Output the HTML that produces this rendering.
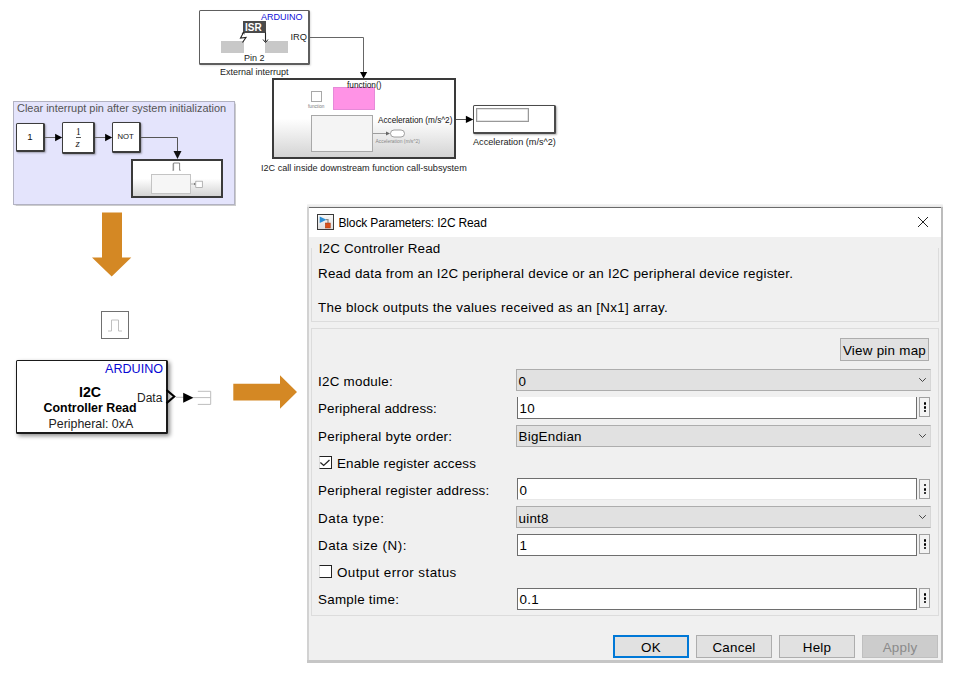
<!DOCTYPE html>
<html><head><meta charset="utf-8">
<style>
*{margin:0;padding:0;box-sizing:border-box}
html,body{width:961px;height:674px;overflow:hidden;background:#fff}
body{position:relative;font-family:"Liberation Sans",sans-serif;color:#000}
.a{position:absolute}
.t{position:absolute;white-space:pre;line-height:1}
.blk{position:absolute;background:#fff;border:1px solid #3c3c3c;border-width:1px 2px 2px 1px;border-radius:1.5px;box-shadow:1px 1px 2px rgba(0,0,0,.3)}
.sub{position:absolute;border:2px solid #3a3a3a;background:linear-gradient(#fff 0%,#fff 50%,#d4d4d4 100%)}
.dlg{position:absolute;left:307px;top:207px;width:635px;height:455px;background:#f0f0f0;border:1px solid #a0a0a0;border-top-color:#707070}
.d13{position:absolute;white-space:pre;line-height:13px;font-size:13.4px;letter-spacing:.25px;color:#000}
.dd{position:absolute;left:516px;width:415px;height:22px;background:#e1e1e1;border:1px solid #adadad;border-right-color:#d6d6d6}
.ed{position:absolute;left:517px;width:400px;height:22px;background:#fff;border:1px solid #6e6e6e}
.dots{position:absolute;left:919px;width:11px;height:20px;border:1px solid #a0a0a0;background:#f3f3f3}
.dots i{position:absolute;left:3.6px;width:2.6px;height:2.6px;border-radius:50%;background:#000}
.chev{position:absolute;left:918px;width:9px;height:6px}
.btn{position:absolute;top:635px;width:76px;height:23px;background:#e1e1e1;border:1px solid #adadad;font-size:13.4px;letter-spacing:.25px;text-align:center;line-height:23px}
</style></head><body>

<!-- ============ External interrupt block ============ -->
<div class="blk" style="left:199px;top:10px;width:111px;height:55px;border-color:#5e5e5e;box-shadow:1px 1px 2px rgba(0,0,0,.12)"></div>
<div class="t" style="left:261px;top:13px;font-size:9px;color:#1010d8">ARDUINO</div>
<div class="a" style="left:243px;top:21px;width:23px;height:12px;background:#4a4a4a"></div>
<div class="t" style="left:245px;top:22.5px;font-size:10px;font-weight:bold;color:#fff">ISR</div>
<div class="a" style="left:221px;top:41px;width:23px;height:12px;background:#c8c8c8"></div>
<div class="a" style="left:265px;top:41px;width:23px;height:12px;background:#c8c8c8"></div>
<svg class="a" style="left:236px;top:30px" width="36" height="16" viewBox="0 0 36 16">
  <path d="M7.5 2.5 L4.5 8 L10 7.5 L6.5 12.5" fill="none" stroke="#222" stroke-width="1.1"/>
  <path d="M6 4 L7.5 2 L8.3 4.3" fill="none" stroke="#222" stroke-width="0.9"/>
  <path d="M29.5 2.5 V11.5" stroke="#222" stroke-width="1.1"/>
  <path d="M27 9.5 L29.5 12.5 L32 9.5" fill="none" stroke="#222" stroke-width="1"/>
</svg>
<div class="t" style="left:244px;top:54px;font-size:9px;color:#222">Pin 2</div>
<div class="t" style="left:290.5px;top:33px;font-size:9.3px;color:#222">IRQ</div>
<div class="t" style="left:220px;top:68.3px;font-size:9px;color:#222">External interrupt</div>

<!-- IRQ line -->
<svg class="a" style="left:0;top:0" width="961" height="210" viewBox="0 0 961 210">
  <path d="M310 37.5 H363.5 V72" fill="none" stroke="#666" stroke-width="1"/>
  <path d="M360 72 L367.2 72 L363.6 78.5 Z" fill="#000"/>
  <!-- output of subsystem to display -->
  <path d="M456 119.5 H467" fill="none" stroke="#555" stroke-width="1"/>
  <path d="M465.9 115.7 L473.3 119.4 L465.9 123.1 Z" fill="#000"/>
</svg>

<!-- ============ I2C call subsystem ============ -->
<div class="sub" style="left:272px;top:78px;width:184px;height:81px"></div>
<div class="a" style="left:311px;top:91px;width:11px;height:11px;border:1px solid #a8a8a8;background:#fff"></div>
<div class="t" style="left:308px;top:105px;font-size:4.7px;color:#777">function</div>
<div class="a" style="left:333px;top:87px;width:42px;height:23px;background:#ff93e6;border:1px solid #e58ad8"></div>
<div class="t" style="left:347px;top:82.3px;font-size:8.25px;color:#111">function()</div>
<div class="a" style="left:311px;top:115px;width:62px;height:37px;border:1px solid #a8a8a8;background:#f4f4f4"></div>
<div class="t" style="left:378px;top:116.5px;font-size:8.2px;color:#111">Acceleration (m/s^2)</div>
<svg class="a" style="left:372px;top:126px" width="40" height="20" viewBox="0 0 40 20">
  <path d="M1 7.5 H15" stroke="#888" stroke-width="0.8"/>
  <path d="M14 5.5 L18 7.5 L14 9.5Z" fill="#666"/>
  <rect x="18.5" y="4" width="14" height="7" rx="3.5" fill="#fff" stroke="#888" stroke-width="0.8"/>
</svg>
<div class="t" style="left:375.5px;top:139.5px;font-size:4.9px;color:#888">Acceleration (m/s^2)</div>
<div class="t" style="left:261px;top:163.5px;font-size:9.1px;color:#222">I2C call inside downstream function call-subsystem</div>

<!-- ============ Display block ============ -->
<div class="blk" style="left:473px;top:105px;width:83px;height:29px;border-color:#4a4a4a"></div>
<div class="a" style="left:476px;top:108px;width:53px;height:14px;border:1px solid #999;box-shadow:inset 0 0 0 0.5px #ccc;background:#fff"></div>
<div class="t" style="left:473px;top:138.2px;font-size:9.15px;color:#222">Acceleration (m/s^2)</div>

<!-- ============ Area ============ -->
<div class="a" style="left:13px;top:101px;width:222px;height:103.5px;background:#e4e4fc;border:1px solid #b2b2c2;box-shadow:0.5px 0.5px 1px rgba(0,0,0,.2)"></div>
<div class="t" style="left:17px;top:102.5px;font-size:10.95px;color:#555">Clear interrupt pin after system initialization</div>
<div class="blk" style="left:16px;top:123px;width:29px;height:29px"></div>
<div class="t" style="left:27.3px;top:132px;font-size:9.7px;color:#111">1</div>
<div class="blk" style="left:62px;top:122px;width:33px;height:32px"></div>
<div class="t" style="left:76px;top:128px;font-family:'Liberation Serif',serif;font-size:9.4px;color:#111">1</div>
<div class="a" style="left:76px;top:137px;width:4.6px;height:1px;background:#555"></div>
<div class="t" style="left:75.5px;top:137.8px;font-family:'Liberation Serif',serif;font-style:italic;font-size:11px;color:#222">z</div>
<div class="blk" style="left:112px;top:122px;width:29px;height:31px"></div>
<div class="t" style="left:117.5px;top:133px;font-size:7.7px;color:#111">NOT</div>
<svg class="a" style="left:0;top:0" width="240" height="210" viewBox="0 0 240 210">
  <path d="M45 137.5 H56" stroke="#666" stroke-width="1"/>
  <path d="M55.1 133.8 L62.2 137.5 L55.1 141.2Z" fill="#000"/>
  <path d="M95 137.5 H106" stroke="#666" stroke-width="1"/>
  <path d="M105.1 133.8 L112.2 137.5 L105.1 141.2Z" fill="#000"/>
  <path d="M141 137.5 H177.5 V152" fill="none" stroke="#555" stroke-width="1"/>
  <path d="M173.5 151 L181.5 151 L177.5 159Z" fill="#111"/>
</svg>
<div class="sub" style="left:131px;top:159px;width:92px;height:39px"></div>
<svg class="a" style="left:171px;top:161px" width="12" height="11" viewBox="0 0 12 11">
  <path d="M1.6 9.3 H2.6 V2 H8.6 V9.3 H9.6" fill="none" stroke="#666" stroke-width="0.8"/>
  <path d="M1.8 2.5 V9.3" stroke="#aaa" stroke-width="0.7"/>
</svg>
<div class="a" style="left:151px;top:174px;width:40px;height:20px;border:1px solid #c4c4c4;background:#f6f6f6"></div>
<svg class="a" style="left:190px;top:179px" width="14" height="10" viewBox="0 0 14 10">
  <path d="M1 5 H5" stroke="#999" stroke-width="0.7"/>
  <path d="M4 3.8 L6 5 L4 6.2Z" fill="#777"/>
  <rect x="5.8" y="2.2" width="6.5" height="6.3" fill="#fff" stroke="#999" stroke-width="0.7"/>
</svg>

<!-- ============ Orange arrows ============ -->
<svg class="a" style="left:0;top:200px" width="310" height="220" viewBox="0 200 310 220">
  <path d="M102 212.5 H122 V257.5 H131.3 L111.7 276.5 L92 257.5 H102 Z" fill="#d48824"/>
  <path d="M233.3 383.7 H280 V375.3 L297 392 L280 408.8 V400.5 H233.3 Z" fill="#d48824"/>
</svg>

<!-- pulse block -->
<div class="a" style="left:101px;top:311px;width:28px;height:28px;border:1px solid #707070;background:#fff"></div>
<svg class="a" style="left:101px;top:311px" width="28" height="28" viewBox="0 0 28 28">
  <path d="M7 20 H10.5 V9 H17.5 V20 H21" fill="none" stroke="#c0c0c0" stroke-width="1"/>
</svg>

<!-- ============ I2C block ============ -->
<div class="blk" style="left:16px;top:360px;width:152px;height:74px;border-color:#1a1a1a;box-shadow:2px 2px 4px rgba(0,0,0,.45)"></div>
<div class="t" style="left:105px;top:363.3px;font-size:12.6px;color:#0808d4">ARDUINO</div>
<div class="t" style="left:79px;top:385px;font-size:14.2px;font-weight:bold">I2C</div>
<div class="t" style="left:43.6px;top:401.7px;font-size:12.4px;font-weight:bold">Controller Read</div>
<div class="t" style="left:48.5px;top:417.9px;font-size:12.4px;color:#222">Peripheral: 0xA</div>
<div class="t" style="left:137px;top:392px;font-size:12px;color:#222">Data</div>
<svg class="a" style="left:160px;top:385px" width="60" height="25" viewBox="160 385 60 25">
  <path d="M166.5 390 L174.2 396.5 L166.5 403.3" fill="none" stroke="#000" stroke-width="2.2"/>
  <path d="M176 397.3 H184" stroke="#aaa" stroke-width="0.8"/>
  <path d="M183.2 392.8 L193.5 397.8 L183.2 402.8Z" fill="#000"/>
  <path d="M193 397.6 H210.7 M197.8 391.3 H210.7 V404.4 H197.8" fill="none" stroke="#bdbdbd" stroke-width="1"/>
</svg>

<!-- ============ Dialog ============ -->
<div class="a" style="left:307px;top:204px;width:636px;height:459px;background:linear-gradient(#f6f6f6,#e6e6e6 3px,#dcdcdc 5px);border-radius:1px"></div>
<div class="a" style="left:307px;top:207px;width:2px;height:455px;background:#d2d2d2"></div>
<div class="a" style="left:941px;top:207px;width:2px;height:455px;background:#bcbcbc"></div>
<div class="a" style="left:307px;top:660px;width:636px;height:3px;background:#c6c6c6"></div>
<div class="a" style="left:309px;top:207px;width:632px;height:453px;background:#f0f0f0"></div>
<div class="a" style="left:309px;top:207px;width:632px;height:1px;background:#6b6b6b"></div>
<div class="a" style="left:309px;top:208px;width:632px;height:29px;background:#fff"></div>
<svg class="a" style="left:317px;top:214px" width="17" height="16" viewBox="0 0 17 16">
  <defs><linearGradient id="ig" x1="0" y1="0" x2="0" y2="1"><stop offset="0" stop-color="#fafafa"/><stop offset="1" stop-color="#dedede"/></linearGradient></defs>
  <rect x="0.5" y="0.5" width="16" height="15" fill="url(#ig)" stroke="#3a3a3a"/>
  <path d="M2.7 2.4 L9.5 5.7 L2.7 9Z" fill="#2d8fd5"/>
  <path d="M9 5.7 H11 V9" stroke="#8a8a8a" stroke-width="1.2" fill="none"/>
  <rect x="8.3" y="9" width="5" height="5" fill="#d9501a" stroke="#a83a10" stroke-width="0.5"/>
</svg>
<div class="t" style="left:338.5px;top:217px;font-size:12px;letter-spacing:-.15px;color:#000">Block Parameters: I2C Read</div>
<svg class="a" style="left:917px;top:216px" width="12" height="12" viewBox="0 0 12 12">
  <path d="M1 1 L11 11 M11 1 L1 11" stroke="#222" stroke-width="1"/>
</svg>

<!-- description group -->
<div class="a" style="left:311px;top:248px;width:628px;height:74px;border:1px solid #dcdcdc;border-top:none"></div>
<div class="d13" style="left:318.7px;top:242px;letter-spacing:.18px">I2C Controller Read</div>
<div class="d13" style="left:318px;top:266.5px;letter-spacing:.235px">Read data from an I2C peripheral device or an I2C peripheral device register.</div>
<div class="d13" style="left:318px;top:300.5px;letter-spacing:.3px">The block outputs the values received as an [Nx1] array.</div>

<!-- parameters group -->
<div class="a" style="left:311px;top:328px;width:628px;height:288px;border:1px solid #dcdcdc"></div>
<div class="btn" style="left:840px;top:338px;width:89px;height:23px">View pin map</div>

<div class="d13" style="left:318px;top:374.7px">I2C module:</div>
<div class="dd" style="top:369px"><span class="d13" style="left:1.5px;top:5px">0</span></div>
<svg class="chev" style="top:377px" viewBox="0 0 9 6"><path d="M1.2 1.2 L4.5 4.5 L7.8 1.2" fill="none" stroke="#333" stroke-width="0.9"/></svg>

<div class="d13" style="left:318px;top:402.3px;letter-spacing:.15px">Peripheral address:</div>
<div class="ed" style="top:397px;border-top:none"><span class="d13" style="left:1.5px;top:4.8px">10</span></div>
<div class="dots" style="top:397px"><i style="top:4.2px"></i><i style="top:8.4px"></i><i style="top:12px;height:2px"></i></div>

<div class="d13" style="left:318px;top:430px">Peripheral byte order:</div>
<div class="dd" style="top:424.5px"><span class="d13" style="left:1.5px;top:4.5px">BigEndian</span></div>
<svg class="chev" style="top:432.5px" viewBox="0 0 9 6"><path d="M1.2 1.2 L4.5 4.5 L7.8 1.2" fill="none" stroke="#333" stroke-width="0.9"/></svg>

<div class="a" style="left:319px;top:456px;width:13px;height:13px;border:1px solid #222;border-left-color:#ddd;background:#fff"></div>
<svg class="a" style="left:319px;top:456px" width="13" height="13" viewBox="0 0 13 13"><path d="M1.4 6.4 L4.7 9.4 L10.5 4" fill="none" stroke="#222" stroke-width="1.3"/></svg>
<div class="d13" style="left:337px;top:456.7px;letter-spacing:.16px">Enable register access</div>

<div class="d13" style="left:318px;top:483.7px">Peripheral register address:</div>
<div class="ed" style="top:478px;border-bottom-color:#e8e8e8"><span class="d13" style="left:1.5px;top:4.8px">0</span></div>
<div class="dots" style="top:478.7px"><i style="top:4.2px"></i><i style="top:8.4px"></i><i style="top:12px;height:2px"></i></div>

<div class="d13" style="left:318px;top:511.8px;letter-spacing:.55px">Data type:</div>
<div class="dd" style="top:506px"><span class="d13" style="left:1.5px;top:5px">uint8</span></div>
<svg class="chev" style="top:514px" viewBox="0 0 9 6"><path d="M1.2 1.2 L4.5 4.5 L7.8 1.2" fill="none" stroke="#333" stroke-width="0.9"/></svg>

<div class="d13" style="left:318px;top:538.8px;letter-spacing:.5px">Data size (N):</div>
<div class="ed" style="top:534px"><span class="d13" style="left:1.5px;top:3.8px">1</span></div>
<div class="dots" style="top:534px"><i style="top:4.2px"></i><i style="top:8.4px"></i><i style="top:12px;height:2px"></i></div>

<div class="a" style="left:319px;top:565px;width:13px;height:13px;border:1px solid #222;border-left-color:#ddd;background:#fff"></div>
<div class="d13" style="left:337px;top:565.7px;letter-spacing:.42px">Output error status</div>

<div class="d13" style="left:318px;top:592.7px">Sample time:</div>
<div class="ed" style="top:588px"><span class="d13" style="left:1.5px;top:3.8px">0.1</span></div>
<div class="dots" style="top:588px"><i style="top:4.2px"></i><i style="top:8.4px"></i><i style="top:12px;height:2px"></i></div>

<!-- buttons -->
<div class="btn" style="left:613px;border:2px solid #0078d7;line-height:21px">OK</div>
<div class="btn" style="left:696px">Cancel</div>
<div class="btn" style="left:779px">Help</div>
<div class="btn" style="left:862px;background:#cccccc;border-color:#bfbfbf;color:#8a8a8a">Apply</div>

</body></html>
